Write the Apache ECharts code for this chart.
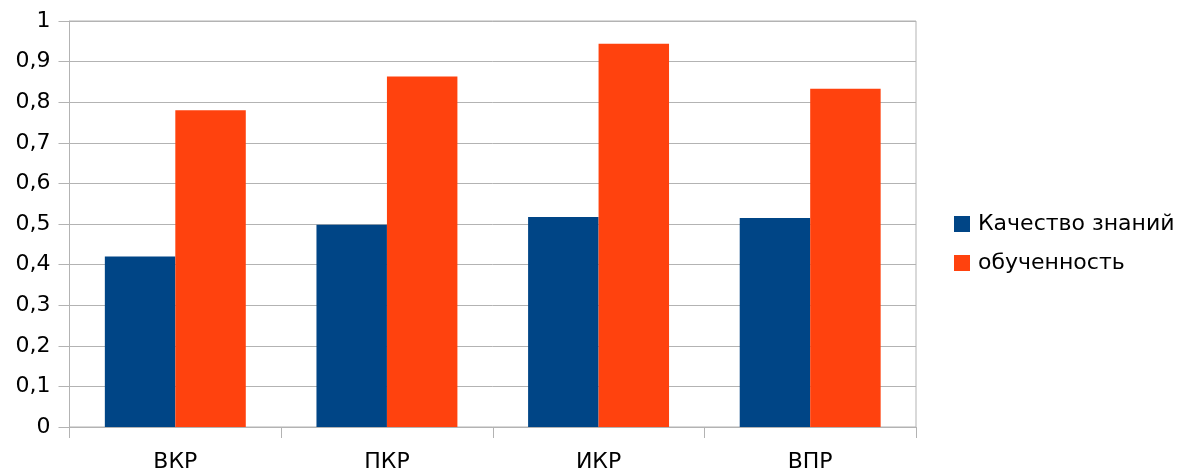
<!DOCTYPE html>
<html>
<head>
<meta charset="utf-8">
<script src="https://cdn.jsdelivr.net/npm/echarts@6/dist/echarts.min.js"></script>
<style>
html,body{margin:0;padding:0;background:#fff;}
#c{width:1178px;height:473px;}
</style>
</head>
<body>
<div id="c"></div>
<script>
const categories = ['ВКР', 'ПКР', 'ИКР', 'ВПР'];
const seriesNames = ['Качество знаний', 'обученность'];
const quality = [0.42, 0.498, 0.517, 0.515];
const learned = [0.78, 0.863, 0.944, 0.833];
const colors = ['#004586', '#ff420e'];

const chart = echarts.init(document.getElementById('c'), null, {renderer: 'canvas'});
const font = 'DejaVu Sans, Liberation Sans, Arial, sans-serif';
chart.setOption({
  animation: false,
  backgroundColor: '#ffffff',
  textStyle: {fontFamily: font},
  grid: {left: 69.5, right: 262, top: 21, bottom: 44, show: true, borderColor: '#b3b3b3', borderWidth: 1, containLabel: false},
  legend: {
    orient: 'vertical',
    left: 949,
    top: 207,
    itemWidth: 16,
    itemHeight: 16,
    itemGap: 15,
    icon: 'rect',
    data: seriesNames,
    textStyle: {fontFamily: font, fontSize: 22, color: '#000', lineHeight: 24, padding: [0, 0, 0, 3]}
  },
  xAxis: {
    type: 'category',
    data: categories,
    axisLine: {lineStyle: {color: '#b3b3b3', width: 1}},
    axisTick: {show: true, length: 11, lineStyle: {color: '#b3b3b3'}, alignWithLabel: false},
    axisLabel: {fontFamily: font, fontSize: 22, color: '#000', margin: 24}
  },
  yAxis: {
    type: 'value',
    min: 0,
    max: 1,
    interval: 0.1,
    axisLine: {show: true, lineStyle: {color: '#b3b3b3', width: 1}},
    axisTick: {show: true, length: 11, lineStyle: {color: '#b3b3b3'}},
    splitLine: {show: true, lineStyle: {color: '#b3b3b3', width: 1}},
    axisLabel: {
      fontFamily: font, fontSize: 22, color: '#000', margin: 19,
      formatter: v => String(Math.round(v * 10) / 10).replace('.', ',')
    }
  },
  series: [
    {name: seriesNames[0], type: 'bar', data: quality, barWidth: '33.3%', barGap: '0%', itemStyle: {color: colors[0]}},
    {name: seriesNames[1], type: 'bar', data: learned, barWidth: '33.3%', barGap: '0%', itemStyle: {color: colors[1]}}
  ]
});
</script>
</body>
</html>
